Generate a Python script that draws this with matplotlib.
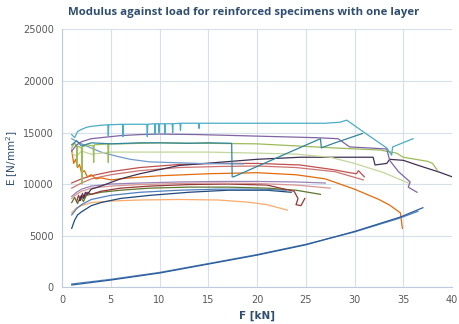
import matplotlib
matplotlib.use("Agg")
import matplotlib.pyplot as plt

# data: load F [kN] and modulus E [N/mm2] per specimen
cyan_F = [1.0, 1.3, 1.6, 2.0, 2.5, 3.0, 4.0, 4.7, 4.75, 4.8, 6.2, 6.25, 6.3, 8.7, 8.75, 8.8,
          9.5, 9.55, 9.6, 9.9, 9.95, 10.0, 10.5, 10.55, 10.6, 11.3, 11.35, 11.4, 12.1, 12.15,
          12.2, 14.0, 14.05, 14.1, 20.0, 25.0, 27.0, 28.5, 29.2, 31.0, 33.3, 33.8, 33.9, 36.0]
cyan_E = [14800, 14500, 15100, 15300, 15500, 15600, 15700, 15750, 14700, 15750, 15800, 14600,
          15800, 15800, 14600, 15800, 15850, 14800, 15850, 15850, 15000, 15850, 15850, 14900,
          15850, 15850, 15000, 15850, 15900, 15200, 15900, 15900, 15400, 15900, 15900, 15900,
          15900, 16000, 16200, 15000, 13500, 12800, 13600, 14400]

purple_F = [1.0, 1.5, 2, 3, 4, 6, 8, 10, 14, 18, 22, 26, 28.3, 29.5, 31.5, 33.3, 33.6, 34.5,
            35.7, 35.5, 36.4]
purple_E = [13200, 13800, 14100, 14400, 14500, 14700, 14800, 14850, 14800, 14700, 14600, 14500,
            14400, 13600, 13500, 13400, 12300, 11200, 10200, 9700, 9200]

teal_F = [1.0, 1.5, 2, 3, 5, 8, 10, 13, 15, 17.4, 17.45, 17.6, 20, 23, 26.5, 26.6, 26.7, 28, 30.8]
teal_E = [13800, 14200, 13700, 14000, 13900, 14000, 14000, 13950, 14000, 13950, 10700, 10700,
          11700, 12950, 14400, 13500, 13550, 14000, 14900]

olive_F = [1.0, 1.3, 1.5, 1.55, 1.6, 2.0, 2.05, 2.1, 2.6, 3.2, 3.25, 3.3, 4.7, 4.75, 4.8, 6,
           10, 20, 24, 28, 32.6, 34.3, 35, 37.5, 38, 38.5]
olive_E = [13500, 14000, 13600, 11700, 13700, 13500, 10000, 13600, 13800, 13700, 12100, 13800,
           13900, 12100, 13900, 13900, 14000, 13900, 13700, 13500, 13300, 13000, 12600, 12200,
           12000, 11300]

pale_F = [1.0, 1.5, 2, 3, 5, 10, 15, 20, 24, 27.5, 30, 33, 35.5]
pale_E = [13000, 12700, 13200, 12900, 13100, 13100, 13100, 13000, 12900, 12600, 12000, 11100, 10100]

blue_hi_F = [1.0, 2, 3, 4, 5.6, 7, 9, 14, 18.6]
blue_hi_E = [14400, 13900, 13500, 13100, 12700, 12400, 12150, 12000, 11950]

dark_F = [1.8, 2.0, 2.2, 2.4, 2.6, 3, 4, 6, 8, 12, 16, 20, 24.4, 31.9, 32.1, 33.3, 33.6, 35,
          36.4, 38.7, 40]
dark_E = [8400, 8900, 8600, 9200, 9000, 9500, 9800, 10500, 11000, 11800, 12100, 12400, 12600,
          12600, 11850, 12000, 12400, 12300, 11850, 11150, 10700]

orange_F = [1.0, 1.2, 1.4, 1.6, 1.8, 2.0, 2.3, 2.6, 3.0, 3.5, 4.0, 5, 7, 10, 15, 20, 24, 27, 30,
            32.5, 33.6, 34.7, 34.9]
orange_E = [13300, 12000, 12400, 11600, 11900, 11100, 11300, 10700, 10900, 10500, 10600, 10400,
            10600, 10800, 11000, 11100, 10900, 10500, 9500, 8500, 7950, 7200, 5700]

red1_F = [1.0, 2, 3, 5, 8, 12, 16, 20, 24.4, 27.8, 29.5, 30.2, 30.4, 31.0]
red1_E = [10100, 10500, 10800, 11200, 11600, 11900, 12000, 12000, 11850, 11400, 11100, 11000,
          11300, 10700]

red2_F = [1.0, 2, 3, 5, 8, 12, 16, 20, 24, 28, 30.9]
red2_E = [9600, 10100, 10500, 10900, 11300, 11600, 11700, 11750, 11600, 11200, 10400]

lilac_F = [1.0, 1.5, 2, 3, 5, 8, 12, 16, 20, 24, 27.0]
lilac_E = [8800, 9200, 9500, 9800, 10000, 10100, 10200, 10250, 10250, 10200, 10100]

pink_F = [1.0, 1.5, 2, 3, 5, 8, 12, 16, 20, 24, 27.5]
pink_E = [8600, 9000, 9300, 9600, 9800, 9950, 10050, 10100, 10050, 9900, 9600]

maroon_F = [1.5, 1.7, 1.9, 2.1, 2.3, 2.6, 3, 4, 6, 9, 13, 17, 21, 23.8, 24.2, 24.0, 24.5, 24.9]
maroon_E = [8300, 8900, 8400, 9100, 8700, 9200, 9000, 9300, 9600, 9800, 9950, 10000, 9900,
            9300, 8600, 8000, 7900, 8600]

green_F = [1.0, 1.3, 1.6, 1.9, 2.2, 2.5, 3, 4, 6, 9, 13, 17, 21, 24, 26.5]
green_E = [8200, 8700, 8100, 8800, 8300, 8900, 9000, 9200, 9400, 9600, 9700, 9700, 9600, 9400, 9000]

blue_mid_F = [1.0, 1.5, 2, 3, 5, 8, 12, 16, 20, 23]
blue_mid_E = [7000, 7600, 8000, 8500, 8900, 9200, 9400, 9500, 9500, 9400]

navy_F = [1.0, 1.3, 1.6, 2, 2.5, 3, 4, 6, 9, 13, 17, 21, 23.5]
navy_E = [5700, 6500, 7000, 7300, 7600, 7900, 8200, 8600, 8900, 9200, 9400, 9400, 9200]

peach_F = [1.0, 1.5, 2, 3, 5, 8, 12, 16, 19, 21, 23.1]
peach_E = [7200, 7700, 7900, 8200, 8350, 8450, 8500, 8450, 8250, 8000, 7470]

low1_F = [1.0, 5, 10, 15, 20, 25, 30, 34.7, 37.0]
low1_E = [200, 680, 1360, 2230, 3100, 4100, 5400, 6800, 7700]
low2_F = [1.0, 5, 10, 15, 20, 25, 30, 34.5, 36.5]
low2_E = [300, 750, 1420, 2280, 3150, 4150, 5350, 6650, 7350]

series = [
    (peach_F, peach_E, "#F9AB6B"),
    (navy_F, navy_E, "#1F497D"),
    (blue_mid_F, blue_mid_E, "#4F81BD"),
    (green_F, green_E, "#5F7530"),
    (maroon_F, maroon_E, "#953735"),
    (pink_F, pink_E, "#D99694"),
    (lilac_F, lilac_E, "#9983B5"),
    (red2_F, red2_E, "#CD7371"),
    (red1_F, red1_E, "#C0504D"),
    (orange_F, orange_E, "#E26B0A"),
    (dark_F, dark_E, "#3F3151"),
    (blue_hi_F, blue_hi_E, "#729ACA"),
    (pale_F, pale_E, "#C3D69B"),
    (olive_F, olive_E, "#9BBB59"),
    (teal_F, teal_E, "#31859C"),
    (purple_F, purple_E, "#8064A2"),
    (cyan_F, cyan_E, "#4BACC6"),
    (low2_F, low2_E, "#4F81BD"),
    (low1_F, low1_E, "#2C5D9A"),
]

fig = plt.figure(figsize=(4.59, 3.24), dpi=100)
ax = fig.add_axes([0.135, 0.114, 0.85, 0.795])

for f, e, c in series:
    ax.plot(f, e, color=c, lw=0.9)

ax.set_xlim(0, 40)
ax.set_ylim(0, 25000)
ax.set_xticks(range(0, 41, 5))
ax.set_yticks(range(0, 25001, 5000))
ax.grid(True, color="#D6E0EC", lw=0.8)
ax.set_axisbelow(True)
for s in ["top", "right"]:
    ax.spines[s].set_visible(False)
for s in ["left", "bottom"]:
    ax.spines[s].set_color("#BCCBDD")
    ax.spines[s].set_linewidth(0.8)
ax.tick_params(length=0, labelsize=7, labelcolor="#595959", pad=6)

ax.set_xlabel("F [kN]", fontsize=7.5, fontweight="bold", color="#2F4E6F", labelpad=4)
ax.set_ylabel("E [N/mm$^2$]", fontsize=7.5, color="#2F4E6F", labelpad=2)
fig.suptitle("Modulus against load for reinforced specimens with one layer",
             x=0.53, y=0.978, fontsize=8.2, fontweight="bold", color="#2F4E6F",
             family="Open Sans")

fig.savefig("out.png", dpi=100)
